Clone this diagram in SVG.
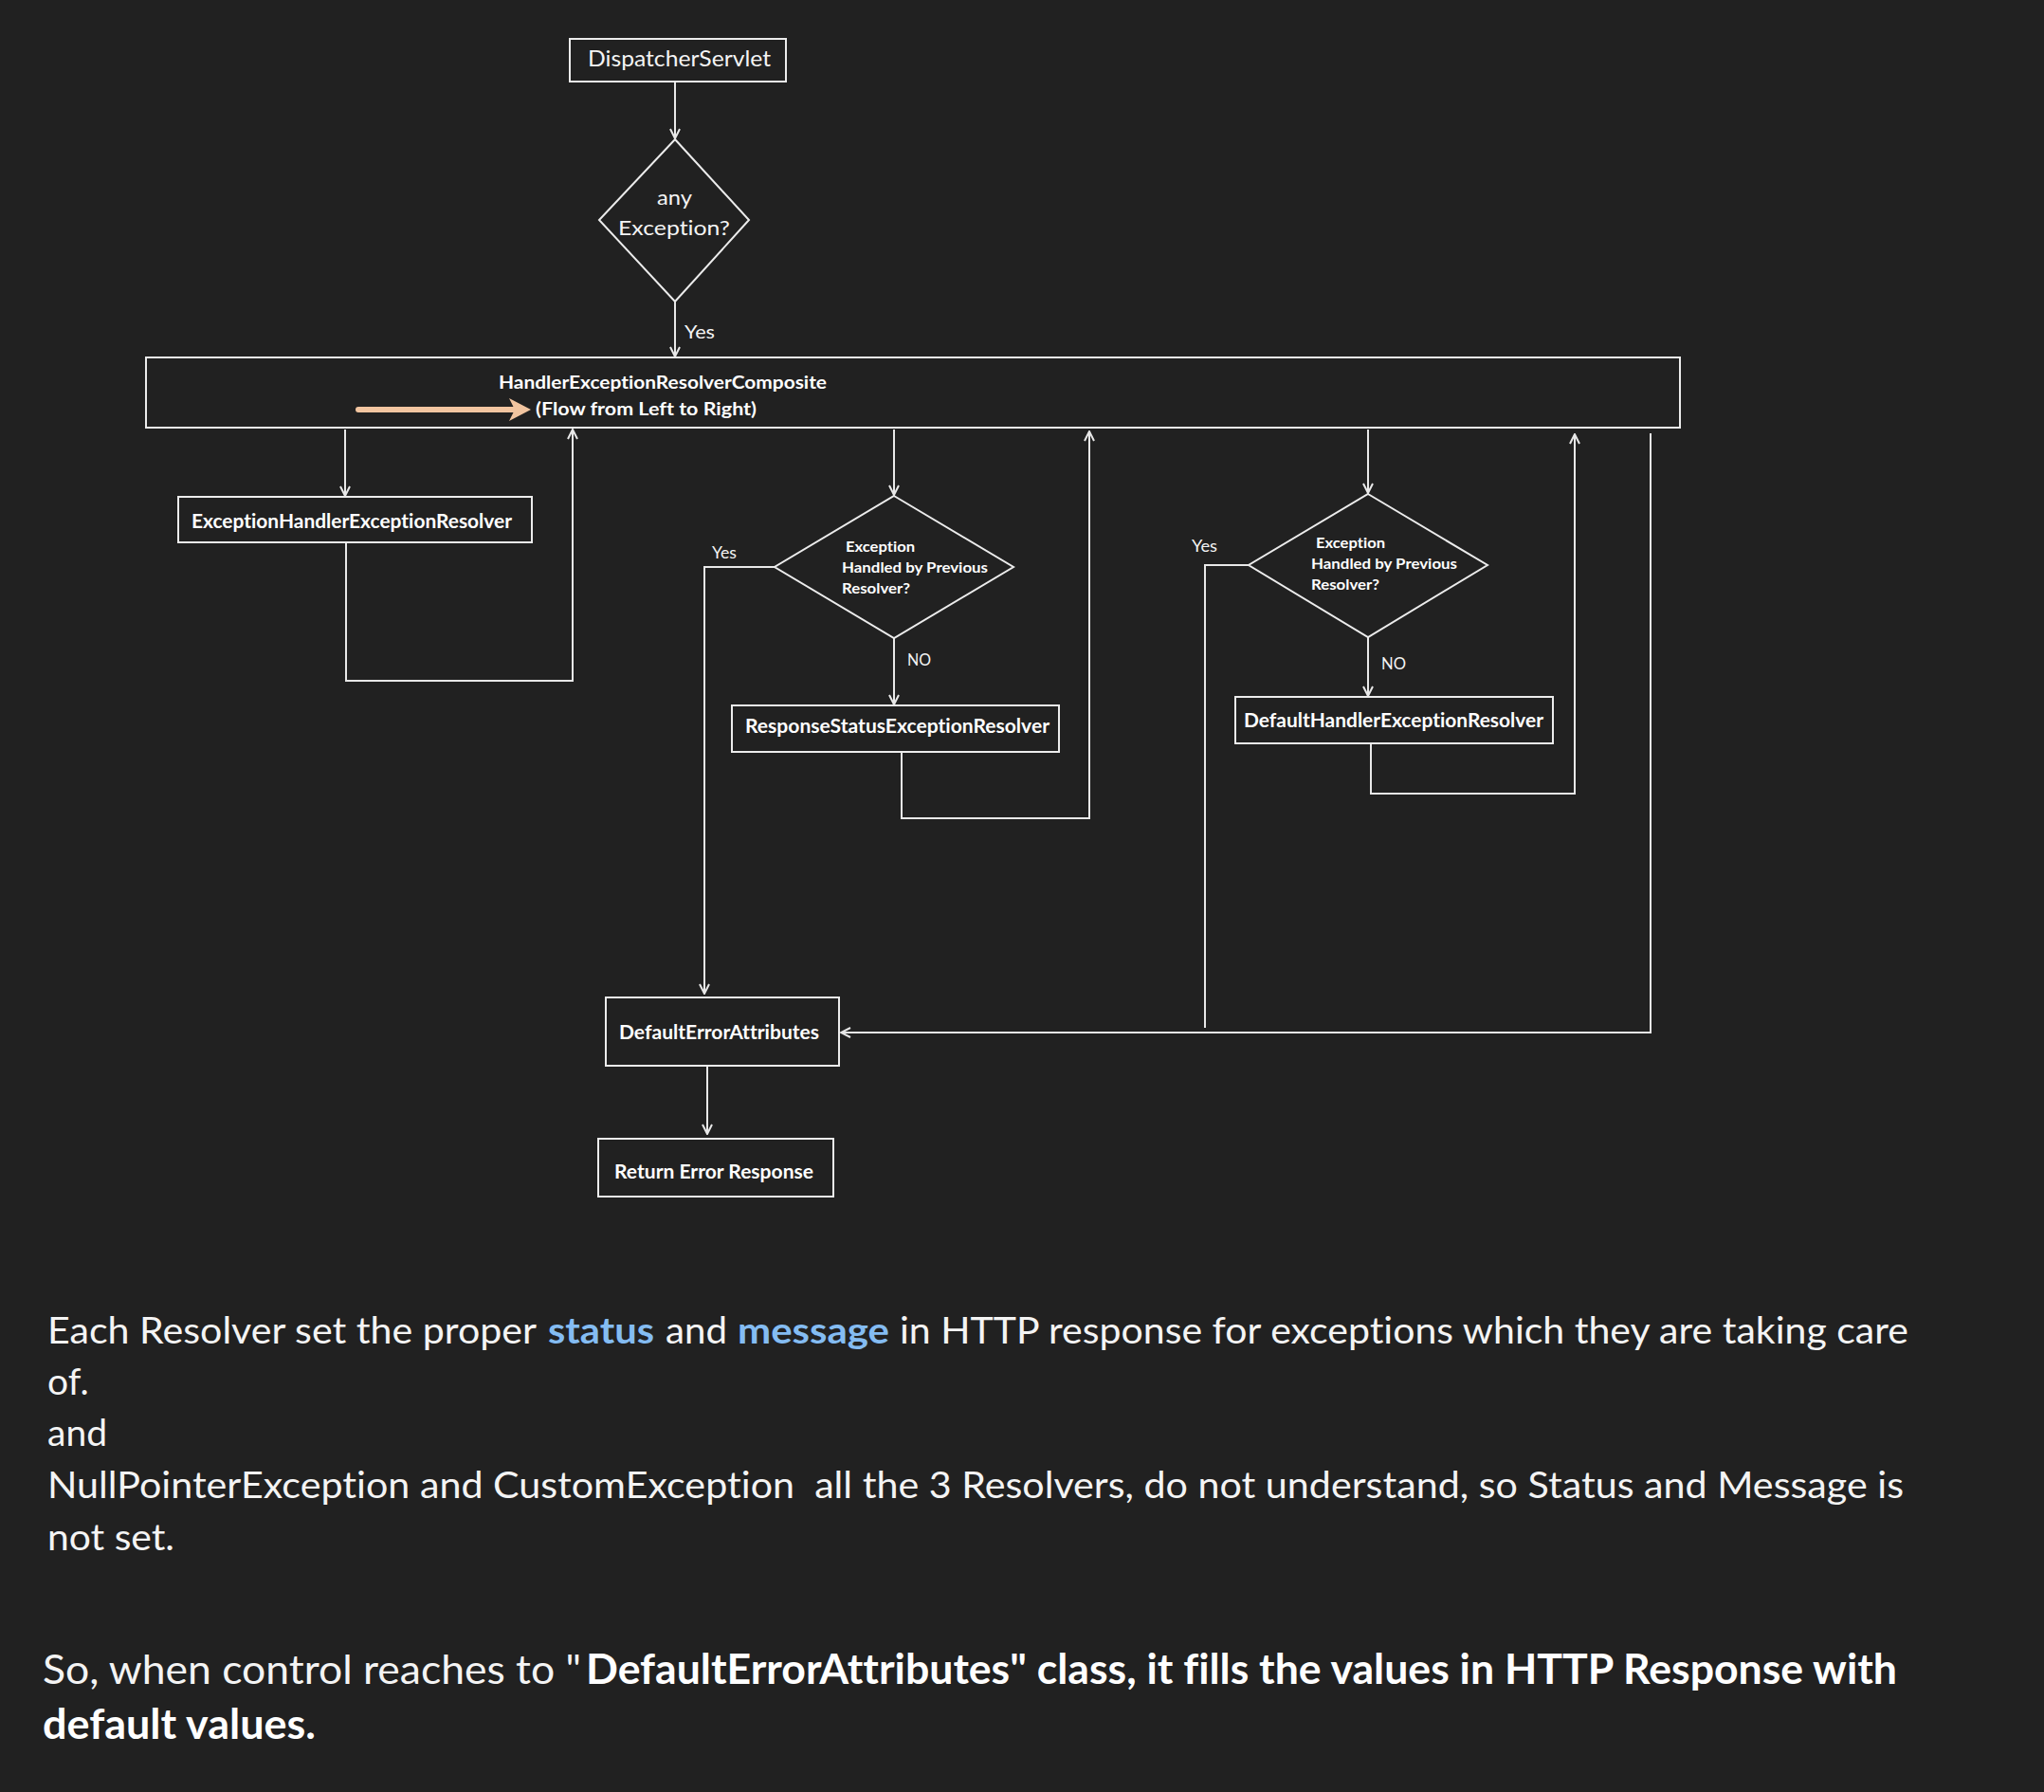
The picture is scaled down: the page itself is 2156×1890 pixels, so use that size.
<svg xmlns="http://www.w3.org/2000/svg" width="2156" height="1890" viewBox="0 0 2156 1890">
<defs>
<style>
.bg{fill:#212121}
.box{fill:none;stroke:#ECECEC;stroke-width:2}
.ln{fill:none;stroke:#E8E8E8;stroke-width:2}
.t{font-family:Lato,"Liberation Sans",sans-serif;fill:#F4F4F4;font-variant-ligatures:none;font-feature-settings:"liga" 0,"clig" 0}
.b{font-weight:bold;fill:#FFFFFF}
.hl{font-weight:bold;fill:#84BCF2}
</style>
<marker id="ah" viewBox="0 0 12 12" refX="11" refY="6" markerWidth="12" markerHeight="12" markerUnits="userSpaceOnUse" orient="auto">
<path d="M1,1 L11,6 L1,11" fill="none" stroke="#E8E8E8" stroke-width="2"/>
</marker>
</defs>
<rect class="bg" x="0" y="0" width="2156" height="1890"/>

<g id="connectors">
<path class="ln" d="M712,86 V146" marker-end="url(#ah)"/>
<path class="ln" d="M712,318 V376" marker-end="url(#ah)"/>
<path class="ln" d="M364,453 V523" marker-end="url(#ah)"/>
<path class="ln" d="M365,572 V718 H604 V453" marker-end="url(#ah)"/>
<path class="ln" d="M943,453 V522" marker-end="url(#ah)"/>
<path class="ln" d="M817,598 H743 V1048" marker-end="url(#ah)"/>
<path class="ln" d="M943,673 V743" marker-end="url(#ah)"/>
<path class="ln" d="M951,793 V863 H1149 V455" marker-end="url(#ah)"/>
<path class="ln" d="M1443,453 V520" marker-end="url(#ah)"/>
<path class="ln" d="M1317,596 H1271 V1084"/>
<path class="ln" d="M1443,672 V734" marker-end="url(#ah)"/>
<path class="ln" d="M1446,784 V837 H1661 V458" marker-end="url(#ah)"/>
<path class="ln" d="M1741,457 V1089 H887" marker-end="url(#ah)"/>
<path class="ln" d="M746,1124 V1196" marker-end="url(#ah)"/>
<text class="t" x="722" y="357" font-size="20" textLength="32" lengthAdjust="spacingAndGlyphs">Yes</text>
<text class="t" x="751" y="589" font-size="17" textLength="26" lengthAdjust="spacingAndGlyphs">Yes</text>
<text class="t" x="957" y="702" font-size="17" textLength="25" lengthAdjust="spacingAndGlyphs">NO</text>
<text class="t" x="1257" y="582" font-size="17" textLength="27" lengthAdjust="spacingAndGlyphs">Yes</text>
<text class="t" x="1457" y="706" font-size="17" textLength="26" lengthAdjust="spacingAndGlyphs">NO</text>
</g>

<g id="dispatcher">
<rect class="box" x="601" y="41" width="228" height="45"/>
<text class="t" x="620" y="70" font-size="23" textLength="193" lengthAdjust="spacingAndGlyphs">DispatcherServlet</text>
</g>

<g id="anyException">
<polygon class="box" points="712,147 790,232 712,318 632,232"/>
<text class="t" x="693" y="216" font-size="22" textLength="37" lengthAdjust="spacingAndGlyphs">any</text>
<text class="t" x="652" y="248" font-size="22" textLength="118" lengthAdjust="spacingAndGlyphs">Exception?</text>
</g>

<g id="composite">
<rect class="box" x="154" y="377" width="1618" height="74"/>
<text class="t b" x="526" y="410" font-size="18" textLength="346" lengthAdjust="spacingAndGlyphs">HandlerExceptionResolverComposite</text>
<text class="t b" x="565" y="438" font-size="18" textLength="233" lengthAdjust="spacingAndGlyphs">(Flow from Left to Right)</text>
<line x1="378" y1="432" x2="545" y2="432" stroke="#F2C5A0" stroke-width="6" stroke-linecap="round"/>
<polygon points="537,420 560,432 537,444 543,432" fill="#F2C5A0"/>
</g>

<g id="eher">
<rect class="box" x="188" y="524" width="373" height="48"/>
<text class="t b" x="202" y="557" font-size="21" textLength="338" lengthAdjust="spacingAndGlyphs">ExceptionHandlerExceptionResolver</text>
</g>

<g id="decision1">
<polygon class="box" points="943,523 1069,598 943,673 817,598"/>
<text class="t b" x="892" y="582" font-size="16" textLength="73" lengthAdjust="spacingAndGlyphs">Exception</text>
<text class="t b" x="888" y="604" font-size="16" textLength="154" lengthAdjust="spacingAndGlyphs">Handled by Previous</text>
<text class="t b" x="888" y="626" font-size="16" textLength="72" lengthAdjust="spacingAndGlyphs">Resolver?</text>
</g>

<g id="rser">
<rect class="box" x="772" y="744" width="345" height="49"/>
<text class="t b" x="786" y="773" font-size="20" textLength="321" lengthAdjust="spacingAndGlyphs">ResponseStatusExceptionResolver</text>
</g>

<g id="decision2">
<polygon class="box" points="1443,521 1569,596 1443,672 1317,596"/>
<text class="t b" x="1388" y="578" font-size="16" textLength="73" lengthAdjust="spacingAndGlyphs">Exception</text>
<text class="t b" x="1383" y="600" font-size="16" textLength="154" lengthAdjust="spacingAndGlyphs">Handled by Previous</text>
<text class="t b" x="1383" y="622" font-size="16" textLength="72" lengthAdjust="spacingAndGlyphs">Resolver?</text>
</g>

<g id="dher">
<rect class="box" x="1303" y="735" width="335" height="49"/>
<text class="t b" x="1312" y="767" font-size="20" textLength="316" lengthAdjust="spacingAndGlyphs">DefaultHandlerExceptionResolver</text>
</g>

<g id="defaultErrorAttributes">
<rect class="box" x="639" y="1052" width="246" height="72"/>
<text class="t b" x="653" y="1096" font-size="20" textLength="211" lengthAdjust="spacingAndGlyphs">DefaultErrorAttributes</text>
</g>

<g id="returnErrorResponse">
<rect class="box" x="631" y="1201" width="248" height="61"/>
<text class="t b" x="648" y="1243" font-size="20" textLength="210" lengthAdjust="spacingAndGlyphs">Return Error Response</text>
</g>

<g id="notes">
<text class="t" x="50" y="1417" font-size="39" textLength="516" lengthAdjust="spacingAndGlyphs">Each Resolver set the proper</text>
<text class="t hl" x="578" y="1417" font-size="39" textLength="112" lengthAdjust="spacingAndGlyphs">status</text>
<text class="t" x="702" y="1417" font-size="39" textLength="65" lengthAdjust="spacingAndGlyphs">and</text>
<text class="t hl" x="778" y="1417" font-size="39" textLength="160" lengthAdjust="spacingAndGlyphs">message</text>
<text class="t" x="949" y="1417" font-size="39" textLength="1064" lengthAdjust="spacingAndGlyphs">in HTTP response for exceptions which they are taking care</text>
<text class="t" x="50" y="1471" font-size="39">of.</text>
<text class="t" x="50" y="1525" font-size="39">and</text>
<text class="t" x="50" y="1580" font-size="39" textLength="1958" lengthAdjust="spacingAndGlyphs" xml:space="preserve">NullPointerException and CustomException  all the 3 Resolvers, do not understand, so Status and Message is</text>
<text class="t" x="50" y="1635" font-size="39" textLength="134" lengthAdjust="spacingAndGlyphs">not set.</text>
<text class="t" x="45" y="1776" font-size="43" textLength="568" lengthAdjust="spacingAndGlyphs">So, when control reaches to "</text>
<text class="t b" x="618" y="1776" font-size="43" textLength="1383" lengthAdjust="spacingAndGlyphs">DefaultErrorAttributes" class, it fills the values in HTTP Response with</text>
<text class="t b" x="45" y="1834" font-size="43" textLength="288" lengthAdjust="spacingAndGlyphs">default values.</text>
</g>
</svg>
